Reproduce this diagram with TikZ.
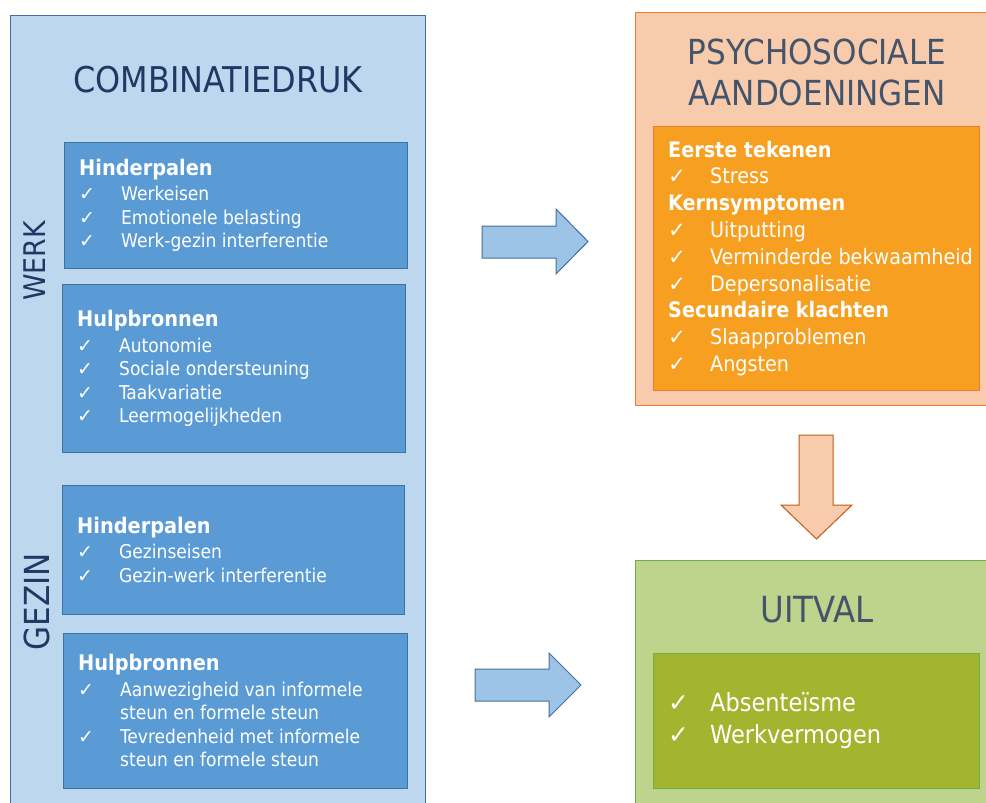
\documentclass[tikz,border=0pt]{standalone}
\usepackage{fontspec}
\setmainfont{DejaVu Sans Condensed}
\newfontfamily\tickfont{DejaVu Sans}

\definecolor{cdrukLight}{RGB}{189,215,238}
\definecolor{cdrukDark}{RGB}{91,155,213}
\definecolor{cdrukLine}{RGB}{65,113,156}
\definecolor{cdrukText}{RGB}{31,56,100}
\definecolor{psyLight}{RGB}{248,203,173}
\definecolor{psyDark}{RGB}{247,159,32}
\definecolor{psyLine}{RGB}{237,125,49}
\definecolor{psyArrowLine}{RGB}{197,90,17}
\definecolor{uitLight}{RGB}{190,211,139}
\definecolor{uitDark}{RGB}{163,181,47}
\definecolor{uitLine}{RGB}{112,173,71}
\definecolor{titleGrey}{RGB}{68,84,106}
\definecolor{arrowBlue}{RGB}{157,195,230}

\newlength{\tickw}
\setlength{\tickw}{42pt}
\newcommand{\tick}[1]{\makebox[\tickw][l]{\tickfont ✓}#1}
\newcommand{\tickcont}[1]{\hspace*{\tickw}#1}
\newcommand{\kop}[1]{{\bfseries #1}}

\begin{document}
\begin{tikzpicture}[x=1pt,y=-1pt,
  outer/.style={anchor=north west,line width=1pt,inner sep=0pt},
  inbox/.style={anchor=north west,line width=0.8pt,inner sep=0pt},
  title/.style={font=\fontsize{34.5}{41}\selectfont,align=center,inner sep=0pt},
  side/.style={rotate=90,text=cdrukText,inner sep=0pt},
  ctext/.style={anchor=west,xshift=15pt,text=white,align=left,inner sep=0pt,
    font=\fontsize{19}{23.5}\selectfont},
  ptext/.style={anchor=west,xshift=15pt,text=white,align=left,inner sep=0pt,
    font=\fontsize{21.3}{26.8}\selectfont},
  utext/.style={anchor=west,xshift=15pt,text=white,align=left,inner sep=0pt,
    font=\fontsize{25}{32}\selectfont},
  barrow/.style={fill=arrowBlue,draw=cdrukLine,line width=1pt,line join=miter},
  oarrow/.style={fill=psyLight,draw=psyArrowLine,line width=1pt,line join=miter}]
\useasboundingbox (0,0) rectangle (986,803);
\clip (0,0) rectangle (986,803);
\coordinate (c0) at (10,15);
\coordinate (c1) at (64,142);
\coordinate (c2) at (62,284);
\coordinate (c3) at (62,485);
\coordinate (c4) at (63,633);
\coordinate (c5) at (635,12);
\coordinate (c6) at (653,126);
\coordinate (c7) at (635,560);
\coordinate (c8) at (653,653);
\node[outer,draw=cdrukLine,fill=cdrukLight,minimum width=415pt,minimum height=800pt] (cdruk) at (c0) {};
\node[outer,draw=psyLine,fill=psyLight,minimum width=360pt,minimum height=393pt] (psy) at (c5) {};
\node[outer,draw=uitLine,fill=uitLight,minimum width=360pt,minimum height=260pt] (uit) at (c7) {};
\node[title,text=cdrukText,font=\fontsize{35.5}{41}\selectfont] (cdrukTitle) at (218,80) {COMBINATIEDRUK};
\node[title,text=titleGrey] (psyTitle) at (817,72) {PSYCHOSOCIALE\\AANDOENINGEN};
\node[title,text=titleGrey,font=\fontsize{36}{41}\selectfont] (uitTitle) at (817,610) {UITVAL};
\node[side,font=\fontsize{29.8}{34}\selectfont] (werk) at (35,261) {WERK};
\node[side,font=\fontsize{34.5}{40}\selectfont] (gezin) at (36.5,601.5) {GEZIN};
\node[inbox,draw=cdrukLine,fill=cdrukDark,minimum width=343pt,minimum height=126pt] (werkHinder) at (c1) {};
\node[inbox,draw=cdrukLine,fill=cdrukDark,minimum width=343pt,minimum height=168pt] (werkHulp) at (c2) {};
\node[inbox,draw=cdrukLine,fill=cdrukDark,minimum width=342pt,minimum height=129pt] (gezinHinder) at (c3) {};
\node[inbox,draw=cdrukLine,fill=cdrukDark,minimum width=344pt,minimum height=155pt] (gezinHulp) at (c4) {};
\node[inbox,draw=psyLine,fill=psyDark,minimum width=326pt,minimum height=264pt] (psySymptomen) at (c6) {};
\node[inbox,draw=uitLine,fill=uitDark,minimum width=326pt,minimum height=135pt] (uitGevolgen) at (c8) {};
\node[ctext] (werkHinderText) at (werkHinder.west)
  {\kop{\fontsize{21.5}{25}\selectfont Hinderpalen}\\[2pt] \tick{Werkeisen}\\ \tick{Emotionele belasting}\\ \tick{Werk-gezin interferentie}};
\node[ctext] (werkHulpText) at (werkHulp.west)
  {\kop{\fontsize{21.5}{25}\selectfont Hulpbronnen}\\[2pt] \tick{Autonomie}\\ \tick{Sociale ondersteuning}\\ \tick{Taakvariatie}\\ \tick{Leermogelijkheden}};
\node[ctext] (gezinHinderText) at (gezinHinder.west)
  {\kop{\fontsize{21.5}{25}\selectfont Hinderpalen}\\[2pt] \tick{Gezinseisen}\\ \tick{Gezin-werk interferentie}};
\node[ctext] (gezinHulpText) at (gezinHulp.west)
  {\kop{\fontsize{21.5}{25}\selectfont Hulpbronnen}\\[2pt] \tick{Aanwezigheid van informele}\\ \tickcont{steun en formele steun}\\ \tick{Tevredenheid met informele}\\ \tickcont{steun en formele steun}};
\node[ptext] (psySymptomenText) at (psySymptomen.west)
  {\kop{Eerste tekenen}\\ \tick{Stress}\\ \kop{Kernsymptomen}\\ \tick{Uitputting}\\ \tick{Verminderde bekwaamheid}\\ \tick{Depersonalisatie}\\ \kop{Secundaire klachten}\\ \tick{Slaapproblemen}\\ \tick{Angsten}};
\node[utext] (uitGevolgenText) at (uitGevolgen.west)
  {\tick{Absenteïsme}\\ \tick{Werkvermogen}};
\draw[barrow] (482,226) -- (556,226) -- (556,209) -- (588,241.5) -- (556,274) -- (556,258) -- (482,258) -- cycle;
\draw[barrow] (475,669) -- (549,669) -- (549,653) -- (581,685) -- (549,717) -- (549,701) -- (475,701) -- cycle;
\draw[oarrow] (799,435) -- (833,435) -- (833,505) -- (852,505) -- (816.5,539) -- (781,505) -- (799,505) -- cycle;
\end{tikzpicture}
\end{document}
